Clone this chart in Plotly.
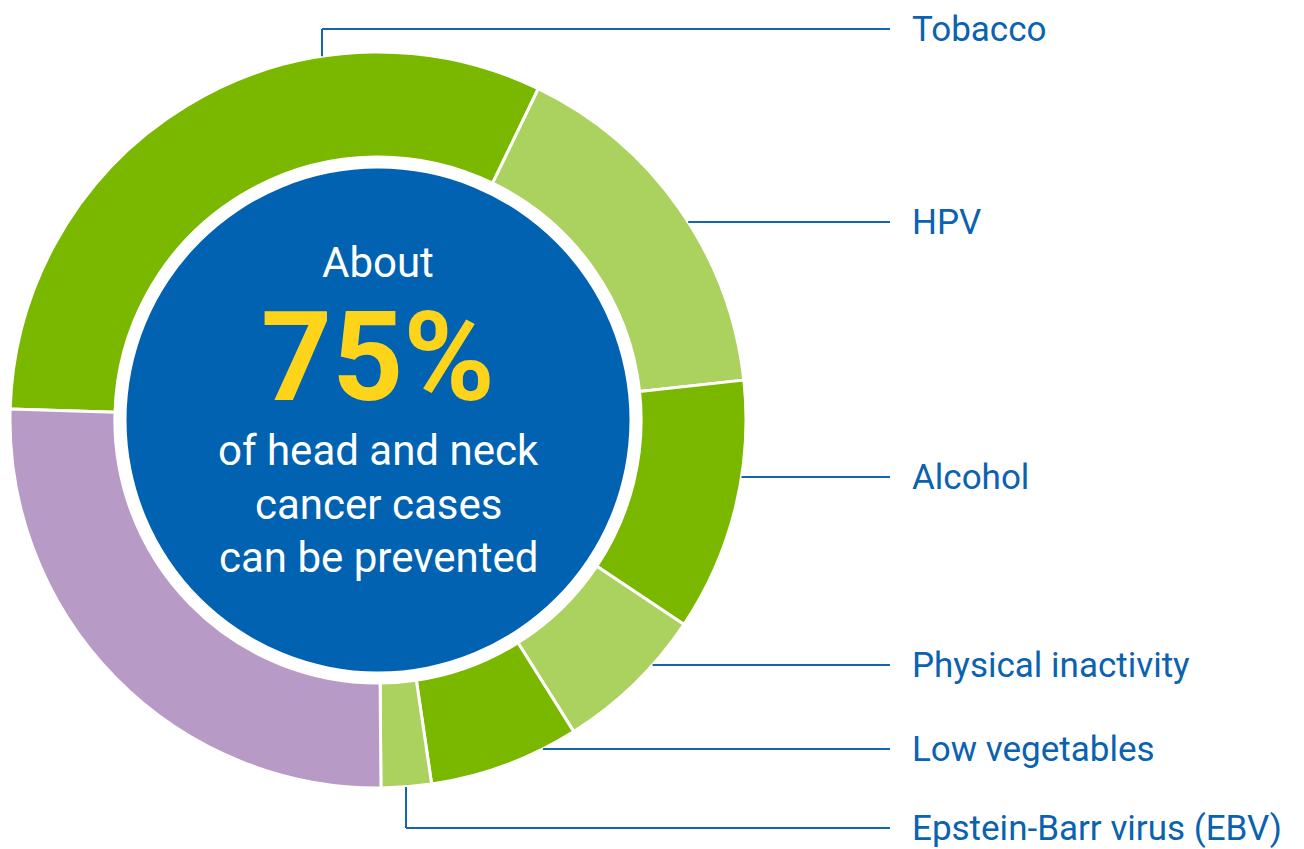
import plotly.graph_objects as go
import math

# ---- data ----
categories = ["Tobacco", "HPV", "Alcohol", "Physical inactivity", "Low vegetables",
              "Epstein-Barr virus (EBV)", "Other causes"]
shares = [31.7, 16.1, 11.1, 6.7, 6.6, 2.2, 25.6]
colors = ["#7ab800", "#abd15e", "#7ab800", "#abd15e", "#7ab800", "#abd15e", "#b89ac6"]
center_lines = ["About", "75%", "of head and neck", "cancer cases", "can be prevented"]

# ---- layout geometry (page pixels) ----
W, H = 1304, 849
CX, CY, R = 378, 420, 368
HOLE = 0.715
R_IN = 251.5
label_x = 910
line_end_x = 890
label_y = [29, 222, 477, 665, 749, 828]
elbow_x = {0: 322, 5: 406}   # labels whose leader drops vertically


def px(x):
    return x / W


def py(y):
    return 1 - y / H


fig = go.Figure()
fig.add_trace(go.Pie(
    labels=categories, values=shares, sort=False, direction="clockwise",
    rotation=-88.3, hole=HOLE, textinfo="none", showlegend=False,
    marker=dict(colors=colors, line=dict(color="white", width=3)),
    domain=dict(x=[px(CX - R), px(CX + R)], y=[py(CY + R), py(CY - R)]),
))
fig.add_trace(go.Pie(
    labels=["centre"], values=[1], textinfo="none", showlegend=False, hoverinfo="skip",
    marker=dict(colors=["#0062b1"], line=dict(width=0)),
    domain=dict(x=[px(CX - R_IN), px(CX + R_IN)], y=[py(CY + R_IN), py(CY - R_IN)]),
))

line_color = "#1464b0"
shapes = []
annotations = []
for i, lab in enumerate(categories[:-1]):
    ly = label_y[i]
    if i in elbow_x:
        ex = elbow_x[i]
        dy = math.sqrt(R ** 2 - (ex - CX) ** 2)
        ey = CY - dy if ly < CY else CY + dy
        shapes.append(dict(type="line", xref="paper", yref="paper",
                           x0=px(ex), y0=py(ey), x1=px(ex), y1=py(ly),
                           line=dict(color=line_color, width=2)))
        sx = ex
    else:
        sx = CX + math.sqrt(max(R ** 2 - (ly - CY) ** 2, 0))
    shapes.append(dict(type="line", xref="paper", yref="paper",
                       x0=px(sx), y0=py(ly), x1=px(line_end_x), y1=py(ly),
                       line=dict(color=line_color, width=2)))
    annotations.append(dict(text=lab, xref="paper", yref="paper", x=px(label_x), y=py(ly),
                            xanchor="left", yanchor="middle", showarrow=False,
                            font=dict(family="Roboto", size=35, color="#0a62b0")))

center_y = [262, 357, 450, 504, 557]
center_sizes = [42, 124, 42, 42, 42]
for j, t in enumerate(center_lines):
    big = j == 1
    annotations.append(dict(
        text=f"<b>{t}</b>" if big else t, xref="paper", yref="paper",
        x=px(CX), y=py(center_y[j]), xanchor="center", yanchor="middle", showarrow=False,
        font=dict(family="Roboto", size=center_sizes[j], color="#fdd41a" if big else "white")))

fig.update_layout(width=W, height=H, margin=dict(l=0, r=0, t=0, b=0),
                  paper_bgcolor="white", plot_bgcolor="white",
                  shapes=shapes, annotations=annotations)
fig.write_html("out.html", config={"displayModeBar": False},
               post_script="document.body.style.margin='0';document.body.style.overflow='hidden';")
